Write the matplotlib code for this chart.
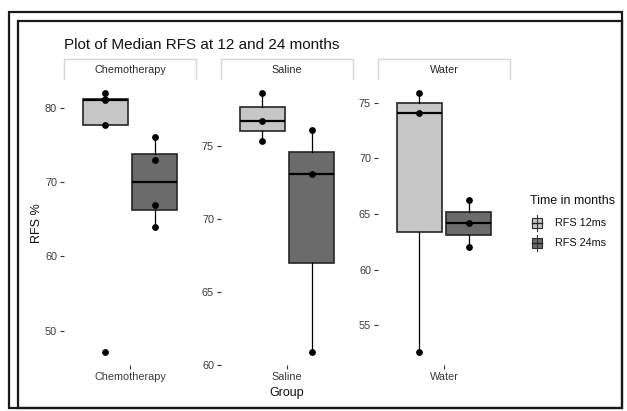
import matplotlib.pyplot as plt
from matplotlib.patches import Rectangle
from matplotlib.lines import Line2D

plt.rcParams['font.family'] = ['Liberation Sans', 'DejaVu Sans']

# RFS % per group
groups = ['Chemotherapy', 'Saline', 'Water']
rfs12 = {'Chemotherapy': [47.1, 77.7, 81.1, 81.2, 82.0],
         'Saline': [75.35, 76.7, 78.64],
         'Water': [52.6, 74.1, 75.86]}
rfs24 = {'Chemotherapy': [64.0, 66.9, 73.0, 76.1],
         'Saline': [60.87, 73.06, 76.08],
         'Water': [62.06, 64.2, 66.23]}
yticks = {'Chemotherapy': [50, 60, 70, 80],
          'Saline': [60, 65, 70, 75],
          'Water': [55, 60, 65, 70, 75]}
series_labels = ['RFS 12ms', 'RFS 24ms']
fills = ['#c6c6c6', '#6b6b6b']

W, H = 627, 411
fig = plt.figure(figsize=(W / 100, H / 100), dpi=100)


def fx(px):
    return px / W


def fy(py):
    return 1 - py / H


# frame around the whole picture (double line at top/left)
for x0, y0 in [(9, 12), (18, 21)]:
    fig.add_artist(Rectangle((fx(x0), fy(408)), fx(622 - x0), (408 - y0) / H,
                             transform=fig.transFigure, fill=False,
                             edgecolor='#1a1a1a', linewidth=1.6))

panel_left = [64, 221, 378]
panel_w = 132
ptop, pbot = 80, 365
strip_top, strip_bot = 59, 79

for g, left in zip(groups, panel_left):
    ax = fig.add_axes([fx(left), fy(pbot), fx(panel_w), (pbot - ptop) / H])
    for k, (data, fc) in enumerate(zip([rfs12[g], rfs24[g]], fills)):
        pos = 1 - 0.225 if k == 0 else 1 + 0.225
        ax.boxplot(data, positions=[pos], widths=0.41, patch_artist=True,
                   showfliers=False, showcaps=False, whis=1.5,
                   boxprops=dict(facecolor=fc, edgecolor='#262626', linewidth=1.2),
                   whiskerprops=dict(color='black', linewidth=0.9),
                   medianprops=dict(color='black', linewidth=1.6))
        ax.scatter([pos] * len(data), data, s=15, color='black', zorder=5)
    allv = rfs12[g] + rfs24[g]
    lo, hi = min(allv), max(allv)
    pad = (hi - lo) * 0.05
    ax.set_ylim(lo - pad, hi + pad)
    ax.set_xlim(0.4, 1.6)
    ax.set_yticks(yticks[g])
    ax.set_xticks([1])
    ax.set_xticklabels([g])
    for s in ax.spines.values():
        s.set_visible(False)
    ax.tick_params(length=3, width=0.8, color='#333333', labelsize=7.8,
                   labelcolor='#3a3a3a', pad=2)

    # strip on top of each panel
    x0, x1 = fx(left), fx(left + panel_w)
    yt, yb = fy(strip_top), fy(strip_bot)
    for xs, ys in [([x0, x0], [yb, yt]), ([x0, x1], [yt, yt]), ([x1, x1], [yt, yb])]:
        fig.add_artist(Line2D(xs, ys, transform=fig.transFigure,
                              color='#d6d6d6', linewidth=1.0))
    fig.text(fx(left + panel_w / 2), fy((strip_top + strip_bot) / 2 + 1), g,
             ha='center', va='center', fontsize=7.8, color='#2a2a2a')

fig.text(fx(64), fy(45), 'Plot of Median RFS at 12 and 24 months',
         ha='left', va='center', fontsize=11, color='#111111')
fig.text(fx(37), fy(223), 'RFS %', rotation=90, ha='center', va='center',
         fontsize=9, color='#111111')
fig.text(fx(287), fy(393), 'Group', ha='center', va='center',
         fontsize=9, color='#111111')

# legend
fig.text(fx(530), fy(201), 'Time in months', ha='left', va='center',
         fontsize=9, color='#111111')
for lab, fc, yc in zip(series_labels, fills, [223, 243]):
    fig.add_artist(Line2D([fx(537), fx(537)], [fy(yc + 8), fy(yc - 8)],
                          transform=fig.transFigure, color='#333333', linewidth=0.8))
    fig.add_artist(Rectangle((fx(532), fy(yc + 5)), fx(10), 10 / H,
                             transform=fig.transFigure, facecolor=fc,
                             edgecolor='#2b2b2b', linewidth=0.8))
    fig.add_artist(Line2D([fx(532), fx(542)], [fy(yc), fy(yc)],
                          transform=fig.transFigure, color='#222222', linewidth=1.0))
    fig.text(fx(555), fy(yc), lab, ha='left', va='center', fontsize=7.8,
             color='#111111')

fig.savefig('out.png', dpi=100)
